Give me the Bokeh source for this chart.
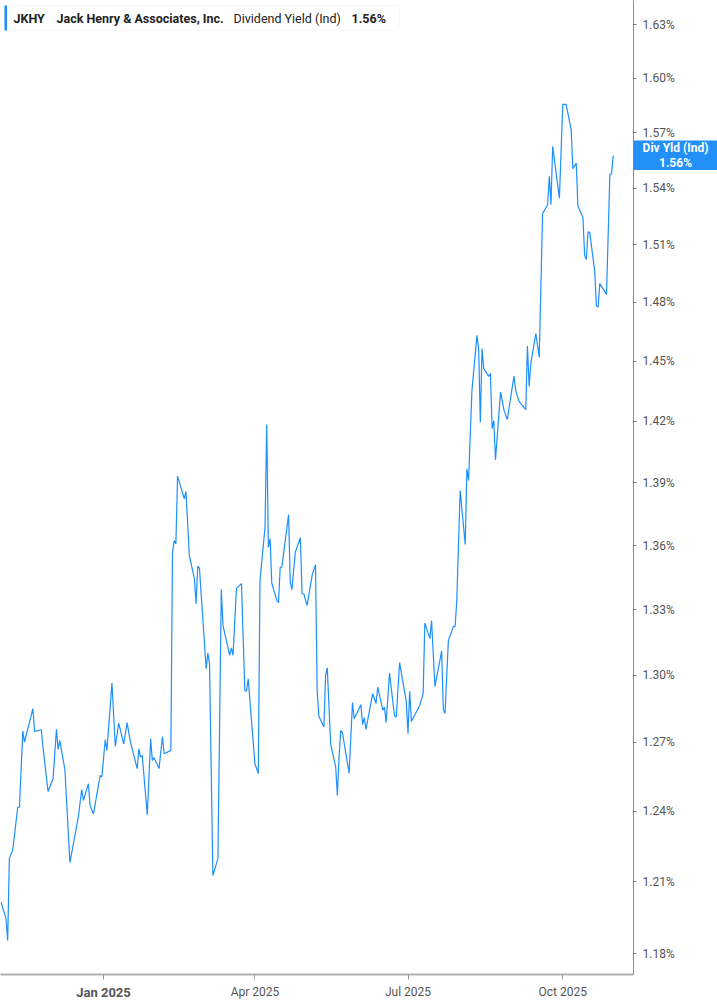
import math
import pandas as pd
from datetime import datetime
from bokeh.plotting import figure
from bokeh.layouts import column
from bokeh.models import Range1d, FixedTicker, PrintfTickFormatter, Label, BoxAnnotation
from bokeh.core.properties import value
from bokeh.embed import file_html
from bokeh.resources import INLINE

# ---------------- data ----------------
dates = [
    "2024-11-01", "2024-11-04", "2024-11-05", "2024-11-06", "2024-11-08", "2024-11-11", "2024-11-12",
    "2024-11-14", "2024-11-15", "2024-11-20", "2024-11-21", "2024-11-25", "2024-11-26", "2024-11-29",
    "2024-12-02", "2024-12-04", "2024-12-05", "2024-12-06", "2024-12-09", "2024-12-12", "2024-12-17",
    "2024-12-19", "2024-12-20", "2024-12-23", "2024-12-24", "2024-12-26", "2024-12-30", "2024-12-31",
    "2025-01-02", "2025-01-03", "2025-01-06", "2025-01-08", "2025-01-10", "2025-01-13", "2025-01-15",
    "2025-01-17", "2025-01-21", "2025-01-22", "2025-01-23", "2025-01-24", "2025-01-27", "2025-01-29",
    "2025-01-30", "2025-01-31", "2025-02-03", "2025-02-05", "2025-02-06", "2025-02-10", "2025-02-11",
    "2025-02-12", "2025-02-13", "2025-02-14", "2025-02-18", "2025-02-19", "2025-02-21", "2025-02-24",
    "2025-02-25", "2025-02-26", "2025-02-27", "2025-03-03", "2025-03-04", "2025-03-05", "2025-03-07",
    "2025-03-10", "2025-03-12", "2025-03-13", "2025-03-17", "2025-03-18", "2025-03-19", "2025-03-21",
    "2025-03-24", "2025-03-26", "2025-03-27", "2025-03-28", "2025-04-01", "2025-04-03", "2025-04-04",
    "2025-04-07", "2025-04-08", "2025-04-09", "2025-04-10", "2025-04-11", "2025-04-14", "2025-04-15",
    "2025-04-16", "2025-04-17", "2025-04-21", "2025-04-22", "2025-04-23", "2025-04-25", "2025-04-28",
    "2025-04-29", "2025-04-30", "2025-05-02", "2025-05-05", "2025-05-07", "2025-05-08", "2025-05-09",
    "2025-05-12", "2025-05-13", "2025-05-14", "2025-05-16", "2025-05-19", "2025-05-20", "2025-05-21",
    "2025-05-22", "2025-05-23", "2025-05-27", "2025-05-29", "2025-05-30", "2025-06-03", "2025-06-04",
    "2025-06-05", "2025-06-06", "2025-06-10", "2025-06-12", "2025-06-13", "2025-06-16", "2025-06-17",
    "2025-06-18", "2025-06-20", "2025-06-23", "2025-06-24", "2025-06-26", "2025-06-30", "2025-07-01",
    "2025-07-02", "2025-07-03", "2025-07-08", "2025-07-10", "2025-07-11", "2025-07-14", "2025-07-15",
    "2025-07-17", "2025-07-21", "2025-07-22", "2025-07-23", "2025-07-25", "2025-07-28", "2025-07-29",
    "2025-07-30", "2025-08-01", "2025-08-04", "2025-08-05", "2025-08-06", "2025-08-08", "2025-08-11",
    "2025-08-12", "2025-08-13", "2025-08-14", "2025-08-15", "2025-08-18", "2025-08-19", "2025-08-20",
    "2025-08-21", "2025-08-22", "2025-08-25", "2025-08-27", "2025-08-29", "2025-09-02", "2025-09-03",
    "2025-09-05", "2025-09-09", "2025-09-10", "2025-09-11", "2025-09-12", "2025-09-15", "2025-09-17",
    "2025-09-19", "2025-09-22", "2025-09-23", "2025-09-24", "2025-09-25", "2025-09-29", "2025-10-01",
    "2025-10-03", "2025-10-06", "2025-10-07", "2025-10-09", "2025-10-10", "2025-10-13", "2025-10-14",
    "2025-10-15", "2025-10-16", "2025-10-17", "2025-10-20", "2025-10-21", "2025-10-22", "2025-10-23",
    "2025-10-27", "2025-10-29", "2025-10-30", "2025-10-31",
]

div_yield = [
    1.2014, 1.1947, 1.1855, 1.2198, 1.2233, 1.2417, 1.2417,
    1.2750, 1.2701, 1.2850, 1.2749, 1.2756, 1.2679, 1.2485,
    1.2542, 1.2758, 1.2669, 1.2708, 1.2582, 1.2180, 1.2374,
    1.2494, 1.2446, 1.2519, 1.2424, 1.2388, 1.2555, 1.2548,
    1.2712, 1.2665, 1.2965, 1.2682, 1.2786, 1.2694, 1.2788,
    1.2701, 1.2585, 1.2672, 1.2635, 1.2643, 1.2384, 1.2716,
    1.2621, 1.2633, 1.2585, 1.2726, 1.2650, 1.2665, 1.3569,
    1.3624, 1.3608, 1.3932, 1.3823, 1.3858, 1.3553, 1.3444,
    1.3328, 1.3503, 1.3494, 1.3030, 1.3101, 1.3053, 1.2126,
    1.2197, 1.3394, 1.3228, 1.3090, 1.3124, 1.3090, 1.3400,
    1.3421, 1.2932, 1.2928, 1.2984, 1.2606, 1.2563, 1.3436,
    1.3687, 1.4185, 1.3592, 1.3632, 1.3424, 1.3343, 1.3332,
    1.3496, 1.3499, 1.3747, 1.3428, 1.3393, 1.3569, 1.3637,
    1.3374, 1.3374, 1.3320, 1.3460, 1.3510, 1.2932, 1.2816,
    1.2768, 1.2999, 1.3034, 1.2694, 1.2592, 1.2468, 1.2635,
    1.2753, 1.2743, 1.2565, 1.2877, 1.2805, 1.2868, 1.2779,
    1.2810, 1.2758, 1.2917, 1.2873, 1.2947, 1.2843, 1.2857,
    1.2788, 1.3010, 1.2816, 1.2813, 1.3057, 1.2880, 1.2738,
    1.2928, 1.2793, 1.2865, 1.2917, 1.3238, 1.3167, 1.3250,
    1.2950, 1.3110, 1.2846, 1.2828, 1.3159, 1.3223, 1.3223,
    1.3343, 1.3863, 1.3605, 1.3968, 1.3911, 1.4354, 1.4631,
    1.4559, 1.4196, 1.4564, 1.4463, 1.4424, 1.4438, 1.4164,
    1.4204, 1.4012, 1.4346, 1.4258, 1.4209, 1.4426, 1.4354,
    1.4299, 1.4258, 1.4577, 1.4374, 1.4488, 1.4640, 1.4521,
    1.5264, 1.5311, 1.5463, 1.5312, 1.5625, 1.5346, 1.5855,
    1.5855, 1.5715, 1.5504, 1.5535, 1.5304, 1.5243, 1.5044,
    1.5022, 1.5166, 1.5166, 1.4961, 1.4781, 1.4776, 1.4897,
    1.4841, 1.5474, 1.5477, 1.5576,
]

y_ticks = [1.18, 1.21, 1.24, 1.27, 1.30, 1.33, 1.36, 1.39, 1.42, 1.45, 1.48, 1.51, 1.54, 1.57, 1.60, 1.63]
x_tick_dates = ["2025-01-01", "2025-04-01", "2025-07-01", "2025-10-01"]
x_tick_labels = ["Jan 2025", "Apr 2025", "Jul 2025", "Oct 2025"]

symbol = "JKHY"
company = "Jack Henry & Associates, Inc."
metric = "Dividend Yield (Ind)"
metric_short = "Div Yld (Ind)"

# ---------------- style / layout ----------------
LINE_COLOR = "#1e8fff"
TAG_COLOR = "#2290f7"
TEXT_DARK = "#222222"
TICK_TEXT = "#555555"
FONT = "Roboto"
FRAME_W, FRAME_H = 633, 974
RIGHT_W = 84
X_START = datetime(2024, 10, 31, 17, 46)
X_END = datetime(2025, 11, 12, 1, 10)
Y_START, Y_END = 1.17153, 1.64383

x_dt = pd.to_datetime(dates)

main = figure(
    frame_width=FRAME_W, frame_height=FRAME_H,
    x_axis_type="datetime", y_axis_type="log", y_axis_location="right",
    x_range=Range1d(X_START, X_END), y_range=Range1d(Y_START, Y_END),
    output_backend="svg", toolbar_location=None, title=None,
    min_border_left=0, min_border_top=0, min_border_right=RIGHT_W, min_border_bottom=0,
    outline_line_color=None, background_fill_color="white", border_fill_color="white",
)

main.line(x_dt, div_yield, line_color=LINE_COLOR, line_width=1.2)

main.xgrid.visible = False
main.ygrid.visible = False

# x axis
tick_ms = [int(pd.Timestamp(d).timestamp() * 1000) for d in x_tick_dates]
main.xaxis.ticker = FixedTicker(ticks=tick_ms, minor_ticks=[])
main.xaxis.major_label_overrides = {
    ms: ("" if lab.startswith("Jan") else lab) for ms, lab in zip(tick_ms, x_tick_labels)
}
main.xaxis.axis_line_color = "#b0b0b0"
main.xaxis.axis_line_width = 2
main.xaxis.major_tick_line_color = "#9a9a9a"
main.xaxis.major_tick_out = 5
main.xaxis.major_tick_in = 0
main.xaxis.minor_tick_line_color = None
main.xaxis.major_label_standoff = 5
main.xaxis.major_label_text_font = FONT
main.xaxis.major_label_text_font_size = "12px"
main.xaxis.major_label_text_color = TICK_TEXT

# y axis (right, log)
main.yaxis.ticker = FixedTicker(ticks=y_ticks, minor_ticks=[])
main.yaxis.formatter = PrintfTickFormatter(format="%.2f%%")
main.yaxis.axis_line_color = "#8a8a8a"
main.yaxis.axis_line_width = 1
main.yaxis.major_tick_line_color = "#777777"
main.yaxis.major_tick_out = 3
main.yaxis.major_tick_in = 0
main.yaxis.minor_tick_line_color = None
main.yaxis.major_label_standoff = 6
main.yaxis.major_label_text_font = FONT
main.yaxis.major_label_text_font_size = "12px"
main.yaxis.major_label_text_color = TICK_TEXT

# header legend box (screen units: x from frame left, y from frame bottom)
main.add_layout(BoxAnnotation(left=4, right=399, top=FRAME_H - 5, bottom=FRAME_H - 30,
                              left_units="screen", right_units="screen",
                              top_units="screen", bottom_units="screen",
                              fill_color="white", fill_alpha=1.0,
                              line_color="#e3e3e3", line_width=1, border_radius=4))
main.add_layout(BoxAnnotation(left=4, right=6.5, top=FRAME_H - 5, bottom=FRAME_H - 30,
                              left_units="screen", right_units="screen",
                              top_units="screen", bottom_units="screen",
                              fill_color=LINE_COLOR, fill_alpha=1.0, line_color=None))

last_val = div_yield[-1]
header_items = [
    (13, symbol, "bold"),
    (56, company, "bold"),
    (233, metric, "normal"),
    (351, f"{last_val:.2f}%", "bold"),
]
for hx, txt, style in header_items:
    main.add_layout(Label(x=hx, y=FRAME_H - 18, x_units="screen", y_units="screen", text=txt,
                          text_align="left", text_baseline="middle", text_font=FONT,
                          text_font_size="12.5px", text_font_style=style, text_color=TEXT_DARK))


# ---------------- small overlays outside the plot frame ----------------
def small_text_fig(w, h, lines, bg, color, size, left, top):
    f = figure(frame_width=w, frame_height=h, width=w, height=h,
               x_range=Range1d(0, 1), y_range=Range1d(0, 1),
               x_axis_location=None, y_axis_location=None, output_backend="svg",
               toolbar_location=None, title=None, min_border=0,
               outline_line_color=None, background_fill_color=bg, border_fill_color=bg)
    f.xgrid.visible = False
    f.ygrid.visible = False
    n = len(lines)
    ys = [1 - (i + 0.5) / n for i in range(n)]
    f.text(x=[0.5] * n, y=ys, text=lines, text_align="center", text_baseline="middle",
           text_color=color, text_font=value(FONT), text_font_style="bold",
           text_font_size=size)
    f.styles = {"position": "absolute", "left": f"{left:.1f}px", "top": f"{top:.1f}px",
                "width": f"{w}px", "height": f"{h}px"}
    return f


# last-value tag on the right axis, centred on the last value
log_span = math.log(Y_END) - math.log(Y_START)
tag_center = FRAME_H * (math.log(Y_END) - math.log(last_val)) / log_span
tag = small_text_fig(RIGHT_W, 30, [metric_short, f"{last_val:.2f}%"], TAG_COLOR, "white",
                     "12px", FRAME_W, tag_center - 15)

# bold year label under the first tick
x_span = (pd.Timestamp(X_END) - pd.Timestamp(X_START)).total_seconds()
jan_lab = [lab for lab in x_tick_labels if lab.startswith("Jan")][0]
jan_ms = tick_ms[x_tick_labels.index(jan_lab)]
jan_px = FRAME_W * (jan_ms / 1000 - pd.Timestamp(X_START).timestamp()) / x_span
jan = small_text_fig(70, 18, [jan_lab], "white", "#555555", "13px", jan_px - 35, FRAME_H + 9)

p = column(main, tag, jan, spacing=0)

open("out.html", "w").write(file_html(p, INLINE))
